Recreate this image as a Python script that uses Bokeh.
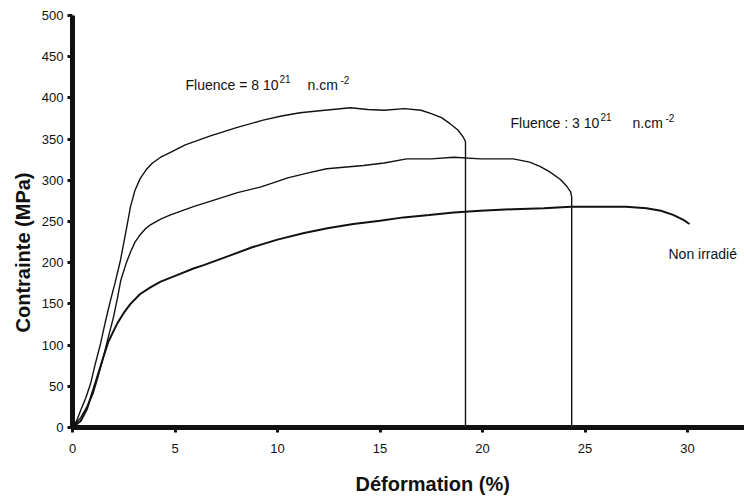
import math
from bokeh.plotting import figure
from bokeh.models import Range1d, Label, FixedTicker, Title, LinearAxis
from bokeh.embed import file_html
from bokeh.resources import INLINE

# ---- data ----
# Fluence = 8 10^21 n.cm^-2
strain_f8 = [0, 0.2, 0.4, 0.65, 0.88, 1.1, 1.37, 1.6, 1.85, 2.1, 2.34, 2.6, 2.83, 3.05, 3.3,
             3.6, 3.9, 4.3, 4.78, 5.5, 6.73, 8.0, 9.3, 10.2, 11.1, 12.3, 13.56, 14.4, 15.2,
             16.2, 17.0, 17.5, 18.0, 18.4, 18.8, 19.07, 19.17, 19.17]
stress_f8 = [0, 8, 21, 36, 53, 76, 102, 128, 154, 178, 203, 237, 268, 288, 302,
             313, 321, 328, 334, 343, 354, 364, 373, 378, 382, 385, 388, 386, 385,
             387, 385, 381, 376, 369, 361, 352, 347, 0]

# Fluence : 3 10^21 n.cm^-2
strain_f3 = [0, 0.4, 0.7, 1.0, 1.25, 1.5, 1.75, 2.0, 2.2, 2.35, 2.6, 2.83, 3.05, 3.3, 3.55,
             3.8, 4.3, 4.78, 5.9, 6.9, 8.05, 9.2, 10.5, 11.5, 12.4, 14.2, 15.2, 16.3, 17.5,
             18.6, 19.9, 21.5, 22.3, 22.8, 23.3, 23.8, 24.1, 24.3, 24.35, 24.35]
stress_f3 = [0, 12, 25, 41, 62, 85, 110, 134, 158, 178, 198, 213, 225, 234, 241,
             246, 253, 258, 268, 276, 285, 292, 303, 309, 314, 318, 321, 326, 326,
             328, 326, 326, 322, 317, 310, 301, 293, 286, 280, 0]

# Non irradié
strain_ni = [0, 0.4, 0.7, 1.0, 1.25, 1.5, 1.75, 2.0, 2.2, 2.5, 2.83, 3.3, 3.8, 4.3, 5.1,
             5.9, 6.4, 7.6, 8.8, 10.0, 11.3, 12.5, 13.7, 15.0, 16.15, 17.4, 18.6, 19.9,
             21.5, 23.0, 24.3, 25.5, 27.0, 28.0, 28.7, 29.3, 29.8, 30.1]
stress_ni = [0, 8, 22, 45, 65, 85, 104, 117, 127, 139, 150, 162, 170, 177, 185,
             193, 197, 208, 219, 228, 236, 242, 247, 251, 255, 258, 261, 263,
             265, 266, 268, 268, 268, 266, 263, 258, 252, 247]

x_ticks = [0, 5, 10, 15, 20, 25, 30]
y_ticks = [0, 50, 100, 150, 200, 250, 300, 350, 400, 450, 500]

x_title = "Déformation (%)"
y_title = "Contrainte (MPa)"
label_f8 = ["Fluence = 8 10", "21", "n.cm", "-2"]
label_f3 = ["Fluence : 3 10", "21", "n.cm", "-2"]
label_ni = "Non irradié"

# ---- layout ----
W, H = 744, 499
BL, BR, BT, BB = 72, 0, 15, 72
X_END, Y_END = 32.78, 500

p = figure(width=W, height=H, output_backend="svg", toolbar_location=None,
           x_range=Range1d(0, X_END), y_range=Range1d(0, Y_END),
           min_border_left=BL, min_border_right=BR, min_border_top=BT, min_border_bottom=BB)
p.outline_line_color = None
p.xgrid.visible = False
p.ygrid.visible = False
p.background_fill_color = "white"
p.border_fill_color = "white"

FONT = "Liberation Sans"
INK = "#111111"

for ax in (p.xaxis[0], p.yaxis[0]):
    ax.axis_line_width = 5
    ax.axis_line_color = INK
    ax.major_tick_line_width = 3
    ax.major_tick_line_color = INK
    ax.major_tick_out = 5
    ax.major_tick_in = 0
    ax.minor_tick_out = 0
    ax.minor_tick_in = 0
    ax.major_label_text_font = FONT
    ax.major_label_text_font_size = "13px"
    ax.major_label_text_color = INK
p.xaxis[0].ticker = FixedTicker(ticks=x_ticks)
p.yaxis[0].ticker = FixedTicker(ticks=y_ticks)
p.xaxis[0].major_label_standoff = 11
p.yaxis[0].major_label_standoff = 4

# invisible (white) spacer between the x axis and its title
spacer = LinearAxis(ticker=FixedTicker(ticks=[16]), axis_line_color=None,
                    major_tick_line_color="white", minor_tick_line_color=None,
                    major_tick_out=10, major_tick_in=0, minor_tick_out=0, minor_tick_in=0,
                    major_label_standoff=0, major_label_text_color=None)
p.add_layout(spacer, "below")

# axis titles
p.add_layout(Title(text=x_title, align="left", offset=283, standoff=10,
                   text_font=FONT, text_font_size="20px", text_font_style="bold",
                   text_color=INK), "below")
p.add_layout(Title(text=y_title, align="left", offset=95, standoff=9,
                   text_font=FONT, text_font_size="20px", text_font_style="bold",
                   text_color=INK), "left")

p.line(strain_f8, stress_f8, line_color=INK, line_width=1.4)
p.line(strain_f3, stress_f3, line_color=INK, line_width=1.4)
p.line(strain_ni, stress_ni, line_color=INK, line_width=2.0)

# page-pixel -> data helpers (frame at x 72..744, y 15..427)
fx0 = BL
fy1 = H - BB
sx = (W - BL - BR) / X_END
sy = (H - BT - BB) / Y_END
def dx(px):
    return (px - fx0) / sx
def dy(py):
    return (fy1 - py) / sy

def txt(s, px, py, size):
    p.add_layout(Label(x=dx(px), y=dy(py), text=s, text_font=FONT,
                       text_font_size=f"{size}px", text_color=INK,
                       text_align="left", text_baseline="middle"))

# curve annotations
txt(label_f8[0], 185, 84, 14)
txt(label_f8[1], 279, 78, 10)
txt(label_f8[2], 307, 84, 14)
txt(label_f8[3], 340, 79, 10)

txt(label_f3[0], 510, 122, 14)
txt(label_f3[1], 600, 116, 10)
txt(label_f3[2], 632, 122, 14)
txt(label_f3[3], 665, 117, 10)

txt(label_ni, 668, 253, 14)

open("out.html", "w").write(file_html(p, INLINE))
